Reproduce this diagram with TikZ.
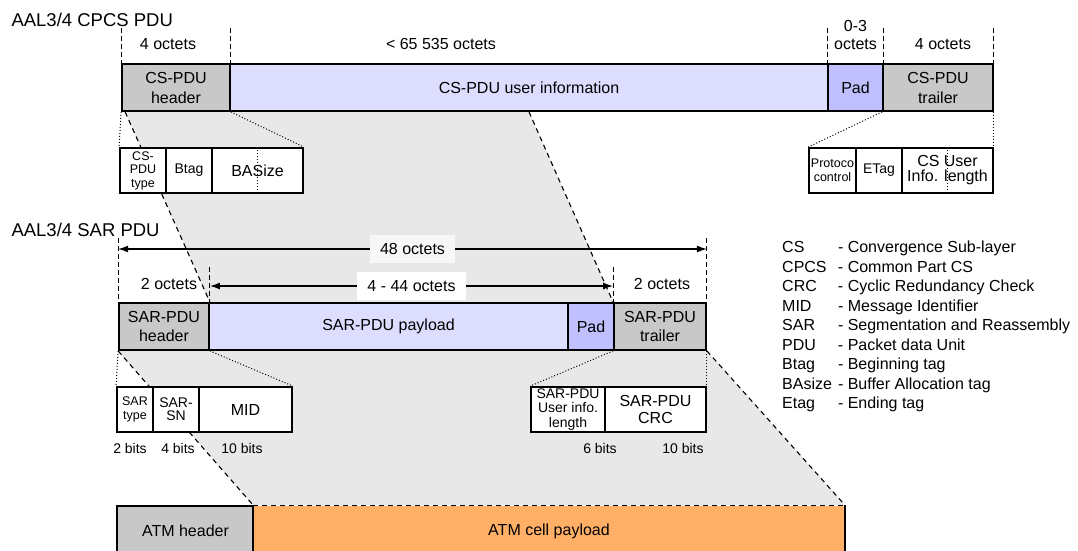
\documentclass[tikz,border=0pt]{standalone}
\usepackage{fontspec}
\setmainfont{Liberation Sans}
\usetikzlibrary{arrows.meta}
\pgfdeclarelayer{bg}
\pgfsetlayers{bg,main}
\definecolor{hdrgray}{RGB}{200,200,200}
\definecolor{infoblue}{RGB}{221,221,255}
\definecolor{padblue}{RGB}{192,192,255}
\definecolor{shadegray}{RGB}{232,232,232}
\definecolor{cellorange}{RGB}{255,176,102}
\begin{document}
\begin{tikzpicture}[x=1pt,y=-1pt,
    txt/.style={font=\fontsize{16}{19}\selectfont},
    titlefont/.style={font=\fontsize{18.5}{20}\selectfont},
    smallfont/.style={font=\fontsize{12.5}{13.5}\selectfont},
    medfont/.style={font=\fontsize{14}{14.5}\selectfont},
    field/.style={draw,line width=1.8pt,fill=white,inner sep=0pt,align=center,txt},
    pdu/.style={field,minimum height=47pt},
    subbox/.style={field,minimum height=45pt},
    tickline/.style={line width=1pt,dash pattern=on 5pt off 3pt},
    zoomline/.style={line width=1pt,dotted},
    shadeedge/.style={line width=1.1pt,dash pattern=on 5pt off 4pt},
    dimline/.style={line width=1.3pt,{Latex[length=10pt,width=7pt]}-{Latex[length=10pt,width=7pt]}},
    dimlabel/.style={fill=white,inner xsep=10pt,inner ysep=8pt,txt}]
  \useasboundingbox (0,0) rectangle (1078,550);
  \coordinate (cstop) at (0,28);
  \coordinate (sartop) at (0,238);
  \coordinate (sarmid) at (0,267);
  \coordinate (a48) at (0,249);
  \coordinate (a444) at (0,286);

  \node[anchor=west,titlefont] (cpcstitle) at (8,20) {AAL3/4 CPCS PDU};
  \node[pdu,fill=hdrgray,minimum width=108pt,font=\fontsize{16}{20}\selectfont] (cshdr) at (176,87.5) {CS-PDU\\header};
  \node[pdu,fill=infoblue,minimum width=598pt] (csinfo) at (529,87.5) {CS-PDU user information};
  \node[pdu,fill=padblue,minimum width=55pt] (cspad) at (855.5,87.5) {Pad};
  \node[pdu,fill=hdrgray,minimum width=110pt,font=\fontsize{16}{20}\selectfont] (cstrl) at (938,87.5) {CS-PDU\\trailer};

  \node[txt] (hdroct) at (168,44) {4 octets};
  \node[txt] (infooct) at (441,44) {< 65 535 octets};
  \node[align=center,font=\fontsize{16}{18}\selectfont] (padoct) at (855.5,35) {0-3\\octets};
  \node[txt] (trloct) at (943,44) {4 octets};

  \node[subbox,minimum width=46pt,smallfont] (cstype) at (143,170.5) {CS-\\PDU\\type};
  \node[subbox,minimum width=46pt,medfont] (btag) at (189,170.5) {Btag};
  \node[subbox,minimum width=91pt] (basize) at (257.5,170.5) {BASize};
  \node[subbox,minimum width=47pt,smallfont] (protctl) at (832.5,170.5) {Protoco\\control};
  \node[subbox,minimum width=46pt,medfont] (etag) at (879,170.5) {ETag};
  \node[subbox,minimum width=91pt,font=\fontsize{16}{15}\selectfont] (uilen) at (947.5,170.5) {CS User\\Info. length};

  \node[anchor=west,titlefont] (sartitle) at (8,230) {AAL3/4 SAR PDU};
  \node[pdu,fill=hdrgray,minimum width=90pt] (sarhdr) at (164,326.5) {SAR-PDU\\header};
  \node[pdu,fill=infoblue,minimum width=359pt] (sarpay) at (388.5,326.5) {SAR-PDU payload};
  \node[pdu,fill=padblue,minimum width=46pt] (sarpad) at (591,326.5) {Pad};
  \node[pdu,fill=hdrgray,minimum width=92pt] (sartrl) at (660,326.5) {SAR-PDU\\trailer};

  \node[txt] (hdr2oct) at (169,284) {2 octets};
  \node[txt] (trl2oct) at (662,284) {2 octets};

  \node[subbox,minimum width=36pt,smallfont] (sartype) at (135,409.5) {SAR\\type};
  \node[subbox,minimum width=46pt,font=\fontsize{14}{13}\selectfont] (sarsn) at (176,409.5) {SAR-\\SN};
  \node[subbox,minimum width=93pt] (midf) at (245.5,409.5) {MID};
  \node[subbox,minimum width=74pt,medfont] (uilength) at (568,409.5) {SAR-PDU\\User info.\\length};
  \node[subbox,minimum width=101pt,font=\fontsize{16}{16.5}\selectfont] (crc) at (655.5,409.5) {SAR-PDU\\CRC};

  \node[medfont] (bits2) at (130,448) {2 bits};
  \node[medfont] (bits4) at (178,448) {4 bits};
  \node[medfont] (bits10) at (242,448) {10 bits};
  \node[medfont] (bits6) at (600,448) {6 bits};
  \node[medfont] (crcbits) at (683,448) {10 bits};

  \node[field,fill=hdrgray,minimum width=137pt,minimum height=50pt] (atmhdr) at (185.5,531) {ATM header};
  \node[field,draw=none,fill=cellorange,minimum width=590pt,minimum height=50pt] (atmpay) at (549,531) {ATM cell payload};
  \draw[line width=1.8pt] (atmpay.north west) -- (atmpay.south west);
  \draw[line width=1.8pt] (atmpay.north east) -- (atmpay.south east);

  \node[anchor=north west,inner sep=0pt,font=\fontsize{16}{19.5}\selectfont] (legend) at (782,238.8) {%
    \begin{tabular}{@{}l@{\hspace{6pt}}l@{}}
      CS & - Convergence Sub-layer\\
      CPCS & - Common Part CS\\
      CRC & - Cyclic Redundancy Check\\
      MID & - Message Identifier\\
      SAR & - Segmentation and Reassembly\\
      PDU & - Packet data Unit\\
      Btag & - Beginning tag\\
      BAsize & - Buffer Allocation tag\\
      Etag & - Ending tag
    \end{tabular}};

  \begin{pgfonlayer}{bg}
    \fill[shadegray] ([xshift=4pt]cshdr.south west) -- (csinfo.south) -- (sartrl.north west) -- (sarhdr.north east) -- cycle;
    \fill[shadegray] (sarhdr.south west) -- (sartrl.south east) -- (atmpay.north east) -- (atmpay.north west) -- cycle;
    \draw[shadeedge] ([xshift=4pt]cshdr.south west) -- (sarhdr.north east);
    \draw[shadeedge] (csinfo.south) -- (sartrl.north west);
    \draw[shadeedge] (sarhdr.south west) -- (atmpay.north west);
    \draw[shadeedge] (sartrl.south east) -- (atmpay.north east);
  \end{pgfonlayer}
  \draw[shadeedge] (atmpay.north west) -- (atmpay.north east);

  \begin{scope}[tickline]
    \draw (cshdr.north west |- cstop) -- (cshdr.north west);
    \draw (cshdr.north east |- cstop) -- (cshdr.north east);
    \draw (cspad.north west |- cstop) -- (cspad.north west);
    \draw (cspad.north east |- cstop) -- (cspad.north east);
    \draw (cstrl.north east |- cstop) -- (cstrl.north east);
    \draw (sarhdr.north west |- sartop) -- (sarhdr.north west);
    \draw (sartrl.north east |- sartop) -- (sartrl.north east);
    \draw (sarhdr.north east |- sarmid) -- (sarhdr.north east);
    \draw (sartrl.north west |- sarmid) -- (sartrl.north west);
  \end{scope}

  \draw[dimline] (sarhdr.north west |- a48) -- node[dimlabel,fill=black!3] (lbl48) {48 octets} (sartrl.north east |- a48);
  \draw[dimline] (sarhdr.north east |- a444) -- node[dimlabel] (lbl444) {4 - 44 octets} (sartrl.north west |- a444);

  \begin{scope}[zoomline]
    \draw (cshdr.south west) -- (cstype.north west);
    \draw (cshdr.south east) -- (basize.north east);
    \draw (cstrl.south west) -- (protctl.north west);
    \draw (cstrl.south east) -- (uilen.north east);
    \draw (basize.north) -- (basize.south);
    \draw (uilen.north) -- (uilen.south);
    \draw (sarhdr.south west) -- (sartype.north west);
    \draw (sarhdr.south east) -- (midf.north east);
    \draw (sartrl.south west) -- (uilength.north west);
    \draw (sartrl.south east) -- (crc.north east);
  \end{scope}
\end{tikzpicture}
\end{document}
